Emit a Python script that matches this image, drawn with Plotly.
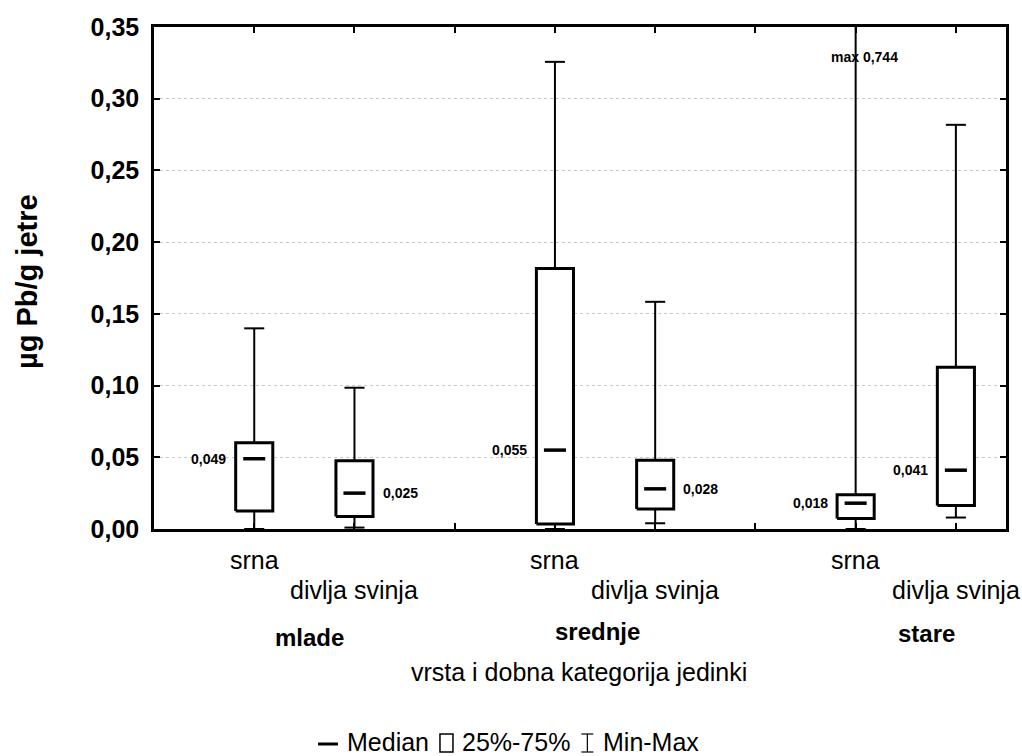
import plotly.graph_objects as go

# ---------------- data ----------------
groups = ["mlade", "srednje", "stare"]
species = ["srna", "divlja svinja"]
# order: mlade-srna, mlade-divlja, srednje-srna, srednje-divlja, stare-srna, stare-divlja
minimum = [0.000, 0.001, 0.000, 0.004, 0.000, 0.008]
q1 = [0.0125, 0.0088, 0.0035, 0.0139, 0.0074, 0.0164]
median = [0.049, 0.025, 0.055, 0.028, 0.018, 0.041]
q3 = [0.0601, 0.0475, 0.1816, 0.0480, 0.0239, 0.1127]
maximum = [0.1399, 0.0985, 0.3257, 0.1584, 0.744, 0.2818]
label_side = ["left", "right", "left", "right", "left", "left"]
y_tick_vals = [0.00, 0.05, 0.10, 0.15, 0.20, 0.25, 0.30, 0.35]
x_title = "vrsta i dobna kategorija jedinki"
y_title = "µg Pb/g jetre"
legend_labels = ["Median", "25%-75%", "Min-Max"]

# ---------------- layout constants ----------------
W, H = 1022, 756
ML, MR, MT, MB = 154, 16, 27, 227
PW, PH = W - ML - MR, H - MT - MB
FONT = "Liberation Sans, Arial, sans-serif"
BOX_HW, MED_HW, CAP_HW = 0.185, 0.11, 0.10
group_label_shift = [0.05, -0.08, 0.21]


def fmt(v):
    return f"{v:.3f}".replace(".", ",")


def py(px):
    return (H - MB - px) / PH


def pxx(px):
    return (px - ML) / PW


positions = [3 * g + s + 1 for g in range(len(groups)) for s in range(len(species))]

# whiskers
wx, wy, cx, cy = [], [], [], []
for p, lo, a, b, hi in zip(positions, minimum, q1, q3, maximum):
    wx += [p, p, None, p, p, None]
    wy += [b, hi, None, lo, a, None]
    cx += [p - CAP_HW, p + CAP_HW, None, p - CAP_HW, p + CAP_HW, None]
    cy += [hi, hi, None, lo, lo, None]

bx, byy = [], []
for p, a, b in zip(positions, q1, q3):
    bx += [p - BOX_HW, p + BOX_HW, p + BOX_HW, p - BOX_HW, p - BOX_HW, None]
    byy += [a, a, b, b, a, None]

mx, my = [], []
for p, m in zip(positions, median):
    mx += [p - MED_HW, p + MED_HW, None]
    my += [m, m, None]

fig = go.Figure()
fig.add_trace(go.Scatter(x=wx, y=wy, mode="lines", line=dict(color="black", width=2),
                         name="Min-Max", showlegend=False, hoverinfo="skip"))
fig.add_trace(go.Scatter(x=cx, y=cy, mode="lines", line=dict(color="black", width=2),
                         showlegend=False, hoverinfo="skip"))
fig.add_trace(go.Scatter(x=bx, y=byy, mode="lines", fill="toself", fillcolor="white",
                         line=dict(color="black", width=3), name="25%-75%",
                         showlegend=False, hoverinfo="skip"))
fig.add_trace(go.Scatter(x=mx, y=my, mode="lines", line=dict(color="black", width=3.5),
                         name="Median", showlegend=False, hoverinfo="skip"))

ann = []
# median labels
for p, m, side in zip(positions, median, label_side):
    off = -0.26 if side == "left" else 0.26
    ann.append(dict(x=p + off, y=m, xref="x", yref="y", text=fmt(m), showarrow=False,
                    xanchor="right" if side == "left" else "left", yanchor="middle",
                    font=dict(family=FONT, size=14, color="black", weight="bold")))
# max label for the clipped whisker
imax = maximum.index(max(maximum))
ann.append(dict(x=positions[imax], y=py(57), xref="x", yref="paper", xshift=9,
                yanchor="middle",
                text="max " + fmt(maximum[imax]), showarrow=False,
                font=dict(family=FONT, size=14, color="black", weight="bold")))
# category labels
for i, p in enumerate(positions):
    s = i % 2
    ann.append(dict(x=p, y=py(560 if s == 0 else 590), xref="x", yref="paper",
                    text=species[s], showarrow=False, yanchor="middle",
                    font=dict(family=FONT, size=25, color="black")))
# group labels
grp_y = [637, 631, 633]
for g, name in enumerate(groups):
    c = (positions[2 * g] + positions[2 * g + 1]) / 2 + group_label_shift[g]
    ann.append(dict(x=c, y=py(grp_y[g]), xref="paper" if False else "x", yref="paper",
                    text=name, showarrow=False, yanchor="middle",
                    font=dict(family=FONT, size=24, color="black", weight="bold")))
# axis titles
ann.append(dict(x=pxx(579), y=py(672), xref="paper", yref="paper", text=x_title,
                showarrow=False, yanchor="middle",
                font=dict(family=FONT, size=25, color="black")))
ann.append(dict(x=pxx(27), y=py(282), xref="paper", yref="paper", text=y_title,
                showarrow=False, textangle=-90, xanchor="center", yanchor="middle",
                font=dict(family=FONT, size=29, color="black", weight="bold")))

# legend (manual)
AW = {"M": 833, "e": 556, "d": 556, "i": 222, "a": 556, "n": 556, "2": 556, "5": 556,
      "%": 889, "-": 333, "7": 556, "x": 500, " ": 278}
LF = 25


def tw(t):
    return sum(AW.get(ch, 556) for ch in t) * LF / 1000


shapes = []
ly = 742
x = 318
# median dash
shapes.append(dict(type="line", xref="paper", yref="paper", x0=pxx(x), x1=pxx(x + 20),
                   y0=py(744), y1=py(744), line=dict(color="black", width=3)))
x += 28
ann.append(dict(x=pxx(x), y=py(ly), xref="paper", yref="paper", text=legend_labels[0],
                showarrow=False, xanchor="left", yanchor="middle", borderpad=0,
                font=dict(family=FONT, size=LF, color="black")))
x += tw(legend_labels[0]) + 12
shapes.append(dict(type="rect", xref="paper", yref="paper", x0=pxx(x), x1=pxx(x + 13),
                   y0=py(752), y1=py(734), line=dict(color="black", width=1.5),
                   fillcolor="white"))
x += 21
ann.append(dict(x=pxx(x), y=py(ly), xref="paper", yref="paper", text=legend_labels[1],
                showarrow=False, xanchor="left", yanchor="middle", borderpad=0,
                font=dict(family=FONT, size=LF, color="black")))
x += tw(legend_labels[1]) + 12
ib = x + 6
for seg in [(ib, 734, ib, 752), (ib - 6, 734, ib + 6, 734), (ib - 6, 752, ib + 6, 752)]:
    shapes.append(dict(type="line", xref="paper", yref="paper", x0=pxx(seg[0]),
                       x1=pxx(seg[2]), y0=py(seg[1]), y1=py(seg[3]),
                       line=dict(color="black", width=1.2)))
x += 21
ann.append(dict(x=pxx(x), y=py(ly), xref="paper", yref="paper", text=legend_labels[2],
                showarrow=False, xanchor="left", yanchor="middle", borderpad=0,
                font=dict(family=FONT, size=LF, color="black")))

fig.update_layout(
    width=W, height=H,
    margin=dict(l=ML, r=MR, t=MT, b=MB, autoexpand=False),
    paper_bgcolor="white", plot_bgcolor="white",
    separators=",.",
    showlegend=False,
    annotations=ann,
    shapes=shapes,
    xaxis=dict(range=[0, 8.5], tickvals=list(range(1, 9)), showticklabels=False,
               ticks="inside", ticklen=6, tickwidth=1.5, tickcolor="black",
               showline=True, linecolor="black", linewidth=2.5, mirror="ticks",
               showgrid=False, zeroline=False, fixedrange=True),
    yaxis=dict(range=[0, 0.35], tickvals=y_tick_vals, tickformat=".2f",
               ticks="inside", ticklen=6, tickwidth=1.5, tickcolor="black",
               showline=True, linecolor="black", linewidth=2.5, mirror="ticks",
               showgrid=True, gridcolor="#c8c8c8", griddash="dot", gridwidth=1,
               zeroline=False, ticklabelstandoff=7,
               tickfont=dict(family=FONT, size=25, color="black", weight="bold"),
               fixedrange=True),
)

fig.write_html("out.html")
